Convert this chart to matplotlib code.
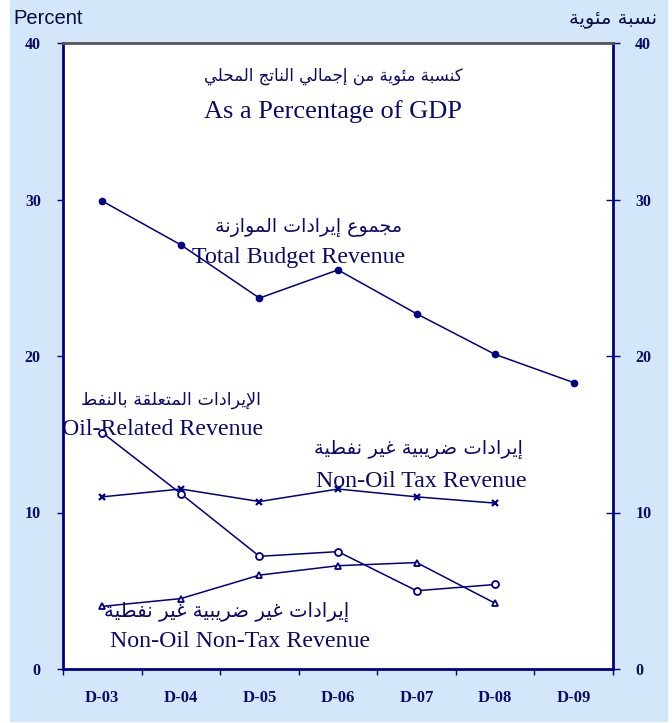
import matplotlib
matplotlib.use("Agg")
import matplotlib.pyplot as plt
from matplotlib.patches import Rectangle

# data (% of GDP)
years = ['D-03', 'D-04', 'D-05', 'D-06', 'D-07', 'D-08', 'D-09']
total_rev = [29.9, 27.1, 23.7, 25.5, 22.7, 20.1, 18.3]
oil_rev = [15.1, 11.2, 7.2, 7.5, 5.0, 5.4]
nonoil_tax = [11.0, 11.5, 10.7, 11.5, 11.0, 10.6]
nonoil_nontax = [4.0, 4.5, 6.0, 6.6, 6.8, 4.2]

NAVY = '#000080'
TXT = '#0B0B66'
BG = '#D4E6FA'

# matplotlib has no arabic shaping, so pick presentation forms by hand
FORMS = {
    '\u0627': (0xFE8D, 0xFE8E, None, None),
    '\u0625': (0xFE87, 0xFE88, None, None),
    '\u0626': (0xFE89, 0xFE8A, 0xFE8B, 0xFE8C),
    '\u0628': (0xFE8F, 0xFE90, 0xFE91, 0xFE92),
    '\u0629': (0xFE93, 0xFE94, None, None),
    '\u062A': (0xFE95, 0xFE96, 0xFE97, 0xFE98),
    '\u062C': (0xFE9D, 0xFE9E, 0xFE9F, 0xFEA0),
    '\u062D': (0xFEA1, 0xFEA2, 0xFEA3, 0xFEA4),
    '\u062F': (0xFEA9, 0xFEAA, None, None),
    '\u0631': (0xFEAD, 0xFEAE, None, None),
    '\u0632': (0xFEAF, 0xFEB0, None, None),
    '\u0633': (0xFEB1, 0xFEB2, 0xFEB3, 0xFEB4),
    '\u0636': (0xFEBD, 0xFEBE, 0xFEBF, 0xFEC0),
    '\u0637': (0xFEC1, 0xFEC2, 0xFEC3, 0xFEC4),
    '\u0639': (0xFEC9, 0xFECA, 0xFECB, 0xFECC),
    '\u063A': (0xFECD, 0xFECE, 0xFECF, 0xFED0),
    '\u0641': (0xFED1, 0xFED2, 0xFED3, 0xFED4),
    '\u0642': (0xFED5, 0xFED6, 0xFED7, 0xFED8),
    '\u0643': (0xFED9, 0xFEDA, 0xFEDB, 0xFEDC),
    '\u0644': (0xFEDD, 0xFEDE, 0xFEDF, 0xFEE0),
    '\u0645': (0xFEE1, 0xFEE2, 0xFEE3, 0xFEE4),
    '\u0646': (0xFEE5, 0xFEE6, 0xFEE7, 0xFEE8),
    '\u0648': (0xFEED, 0xFEEE, None, None),
    '\u064A': (0xFEF1, 0xFEF2, 0xFEF3, 0xFEF4),
    'LA': (0xFEFB, 0xFEFC, None, None),
    'LAH': (0xFEF9, 0xFEFA, None, None),
}


def shape(text):
    tokens = []
    i = 0
    while i < len(text):
        c = text[i]
        if c == '\u0644' and i + 1 < len(text) and text[i + 1] in ('\u0627', '\u0625'):
            tokens.append('LA' if text[i + 1] == '\u0627' else 'LAH')
            i += 2
        else:
            tokens.append(c)
            i += 1
    out = []
    for k, t in enumerate(tokens):
        if t not in FORMS:
            out.append(t)
            continue
        iso, fin, ini, med = FORMS[t]
        prev = tokens[k - 1] if k > 0 else None
        nxt = tokens[k + 1] if k + 1 < len(tokens) else None
        jp = prev in FORMS and FORMS[prev][2] is not None
        jn = ini is not None and nxt in FORMS
        if jp and jn:
            code = med
        elif jp:
            code = fin
        elif jn:
            code = ini
        else:
            code = iso
        out.append(chr(code))
    return ''.join(reversed(out))


fig = plt.figure(figsize=(6.72, 7.23), dpi=100)
fig.patches.append(Rectangle((10 / 672, 2 / 723), 657 / 672, 721 / 723,
                             transform=fig.transFigure, color=BG, zorder=-1))
ax = fig.add_axes([63 / 672, 54 / 723, 550 / 672, 626 / 723])
ax.set_facecolor('white')

x = range(len(years))
ax.plot(x, total_rev, color=NAVY, lw=1.1, marker='o', ms=4.5, zorder=3)
ax.plot(x[:6], oil_rev, color=NAVY, lw=1.1, marker='o', ms=5, mfc='white', mew=1.3, zorder=3)
ax.plot(x[:6], nonoil_tax, color=NAVY, lw=1.1, marker='x', ms=4.5, mew=1.6, zorder=3)
ax.plot(x[:6], nonoil_nontax, color=NAVY, lw=1.1, marker='^', ms=5, mfc='white', mew=1.3, zorder=3)

ax.set_xlim(-0.5, 6.5)
ax.set_ylim(0, 40)
ax.set_xticks([i - 0.5 for i in range(8)])
ax.set_xticklabels([])
ax.set_xticks(list(x), minor=True)
ax.set_xticklabels(years, minor=True, fontfamily='Liberation Serif', fontweight='bold',
                   fontsize=12, color=TXT)
ax.tick_params(axis='x', which='major', direction='out', length=4, color=NAVY, width=1)
ax.tick_params(axis='x', which='minor', length=0, pad=15)
ax.set_yticks([0, 10, 20, 30, 40])
ax.tick_params(axis='y', which='major', direction='out', length=4, color=NAVY, width=1,
               left=True, right=True, labelleft=True, labelright=True, pad=12)
for lab in ax.get_yticklabels():
    lab.set_fontfamily('Liberation Serif')
    lab.set_fontweight('bold')
    lab.set_fontsize(11.5)
    lab.set_color(TXT)
for t in ax.yaxis.get_major_ticks():
    t.tick2line.set_marker('_')
    t.tick2line.set_markersize(10)
    t.tick2line.set_markeredgewidth(1)

for side in ['left', 'right', 'bottom']:
    ax.spines[side].set_color(NAVY)
    ax.spines[side].set_linewidth(2)
ax.spines['top'].set_color('#555555')
ax.spines['top'].set_linewidth(2)

fig.text(13 / 672, 1 - 18 / 723, 'Percent', fontfamily='Liberation Sans', fontsize=14.5,
         color='#0A0A40', va='center', ha='left')
fig.text(657 / 672, 1 - 18 / 723, shape('نسبة مئوية'), fontfamily=['DejaVu Sans'],
         fontsize=14, color='#0A0A40', va='center', ha='right')

en = dict(fontfamily='Liberation Serif', fontsize=17.2, color=TXT, ha='center', va='center', zorder=2)
ar = dict(fontfamily=['DejaVu Sans'], color=TXT, ha='center', va='center', zorder=2)

ax.text(2.94, 37.9, shape('كنسبة مئوية من إجمالي الناتج المحلي'), fontsize=12, **ar)
ax.text(2.94, 35.6, 'As a Percentage of GDP', **dict(en, fontsize=19))
ax.text(2.63, 28.2, shape('مجموع إيرادات الموازنة'), fontsize=13.7, **ar)
ax.text(2.50, 26.3, 'Total Budget Revenue', **en)
ax.text(0.87, 17.2, shape('الإيرادات المتعلقة بالنفط'), fontsize=12.6, **ar)
ax.text(0.77, 15.3, 'Oil-Related Revenue', **en)
ax.text(4.02, 14.0, shape('إيرادات ضريبية غير نفطية'), fontsize=14, **ar)
ax.text(4.06, 11.95, 'Non-Oil Tax Revenue', **en)
ax.text(1.58, 3.64, shape('إيرادات غير ضريبية غير نفطية'), fontsize=14.2, **ar)
ax.text(1.75, 1.73, 'Non-Oil Non-Tax Revenue', **en)

fig.savefig('out.png', dpi=100)
